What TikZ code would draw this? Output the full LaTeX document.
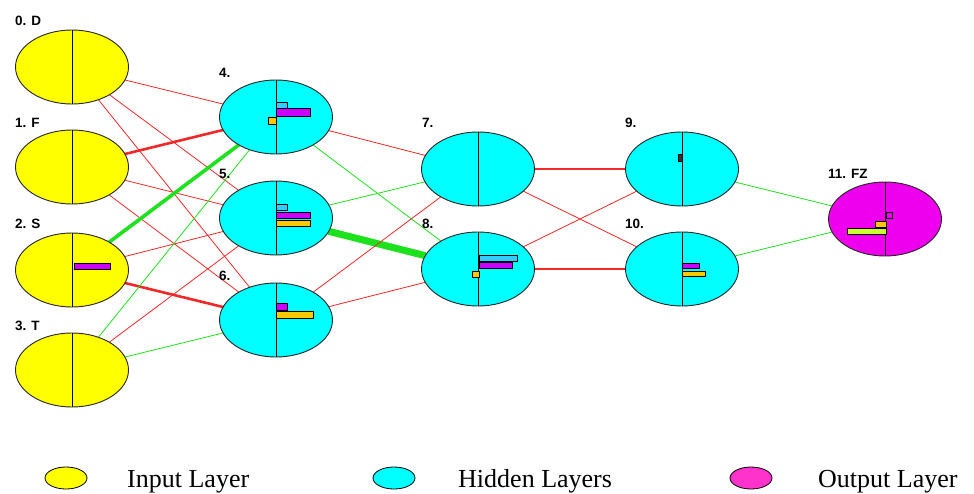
\documentclass[tikz,border=0pt]{standalone}
\usepackage{fontspec}
\setmainfont{Liberation Serif}
\newfontfamily\labfont{Liberation Sans}
\usetikzlibrary{shapes.geometric}
\pgfdeclarelayer{background}
\pgfsetlayers{background,main}
\definecolor{inyel}{RGB}{255,255,0}
\definecolor{hidcyan}{RGB}{0,255,255}
\definecolor{outmag}{RGB}{238,0,238}
\definecolor{legmag}{RGB}{255,51,204}
\definecolor{linered}{RGB}{240,40,40}
\definecolor{linegreen}{RGB}{30,225,30}
\definecolor{barcyan}{RGB}{51,204,255}
\definecolor{barmag}{RGB}{204,0,255}
\definecolor{barorange}{RGB}{255,200,0}
\definecolor{barlime}{RGB}{204,255,51}
\begin{document}
\begin{tikzpicture}[x=1pt,y=-1pt,
  neuron/.style={ellipse,draw=black!85,line width=0.9pt,minimum width=113pt,minimum height=74pt,inner sep=0pt,outer sep=0pt},
  inneuron/.style={neuron,fill=inyel},
  hidneuron/.style={neuron,fill=hidcyan},
  outneuron/.style={neuron,fill=outmag},
  lab/.style={anchor=base west,inner sep=0pt,font=\labfont\bfseries\fontsize{13.5}{13.5}\selectfont},
  bar/.style={draw=black,line width=0.6pt},
  divider/.style={draw=black,line width=1pt},
  wr/.style={draw=linered,line width=0.8pt},
  wrk/.style={draw=linered,line width=2.6pt},
  wrm/.style={draw=linered,line width=1.8pt},
  wg/.style={draw=linegreen,line width=0.8pt},
  wgk/.style={draw=linegreen,line width=3.6pt},
  wgh/.style={draw=linegreen,line width=7pt},
  legnode/.style={ellipse,draw=black,line width=0.8pt,minimum width=42pt,minimum height=22pt,inner sep=0pt},
  legtext/.style={anchor=base west,inner sep=0pt,font=\fontsize{26}{26}\selectfont}
]
\useasboundingbox (0,0) rectangle (974,493);

% input layer
\node[inneuron] (n0) at (72,67) {};
\node[inneuron] (n1) at (72,167) {};
\node[inneuron] (n2) at (72,270) {};
\node[inneuron] (n3) at (72,370) {};
% hidden layer 1
\node[hidneuron] (n4) at (276,117) {};
\node[hidneuron] (n5) at (276,218) {};
\node[hidneuron] (n6) at (276,320) {};
% hidden layer 2
\node[hidneuron] (n7) at (478,169) {};
\node[hidneuron] (n8) at (478,269) {};
% hidden layer 3
\node[hidneuron] (n9) at (682,169) {};
\node[hidneuron] (n10) at (682,269) {};
% output
\node[outneuron] (n11) at (885,219) {};

\foreach \n in {n0,n1,n2,n3,n4,n5,n6,n7,n8,n9,n10,n11}
  \draw[divider] (\n.north) -- (\n.south);

% labels
\node[lab] (l0) at (15,25) {0. D};
\node[lab] (l1) at (15,127) {1. F};
\node[lab] (l2) at (15,228) {2. S};
\node[lab] (l3) at (15,330) {3. T};
\node[lab] (l4) at (219,77) {4.};
\node[lab] (l5) at (219,178) {5.};
\node[lab] (l6) at (219,280) {6.};
\node[lab] (l7) at (422,127) {7.};
\node[lab] (l8) at (422,228) {8.};
\node[lab] (l9) at (625,127) {9.};
\node[lab] (l10) at (625,228) {10.};
\node[lab] (l11) at (828,178) {11. FZ};

% bars
\draw[bar,fill=barmag] (74,263) rectangle (110,269);

\draw[bar,fill=barcyan] (276,102) rectangle (287,108);
\draw[bar,fill=barmag] (276,108) rectangle (310,116);
\draw[bar,fill=barorange] (268,117) rectangle (276,124);

\draw[bar,fill=barcyan] (276,204) rectangle (287,210);
\draw[bar,fill=barmag] (276,212) rectangle (310,218);
\draw[bar,fill=barorange] (276,220) rectangle (310,226);

\draw[bar,fill=barmag] (276,303) rectangle (287,310);
\draw[bar,fill=barorange] (276,311) rectangle (313,318);

\draw[bar,fill=barcyan] (479,255) rectangle (517,261);
\draw[bar,fill=barmag] (479,262) rectangle (512,268);
\draw[bar,fill=barorange] (472,271) rectangle (479,277);

\draw[bar,fill=black!80] (678,154) rectangle (682,161);

\draw[bar,fill=barmag] (682,263) rectangle (699,268);
\draw[bar,fill=barorange] (682,271) rectangle (705,276);

\draw[bar,fill=outmag] (886,212) rectangle (892,218);
\draw[bar,fill=barorange] (875,221) rectangle (886,227);
\draw[bar,fill=barlime] (847,228) rectangle (886,234);

% connections
\begin{pgfonlayer}{background}
\draw[wr] (n0) -- (n4);
\draw[wr] (n0) -- (n5);
\draw[wr] (n0) -- (n6);
\draw[wrk] (n1) -- (n4);
\draw[wr] (n1) -- (n5);
\draw[wr] (n1) -- (n6);
\draw[wgk] (n2) -- (n4);
\draw[wr] (n2) -- (n5);
\draw[wrk] (n2) -- (n6);
\draw[wg] (n3) -- (n4);
\draw[wr] (n3) -- (n5);
\draw[wg] (n3) -- (n6);

\draw[wr] (n4) -- (n7);
\draw[wg] (n4) -- (n8);
\draw[wg] (n5) -- (n7);
\draw[wgh] (n5) -- (n8);
\draw[wr] (n6) -- (n7);
\draw[wr] (n6) -- (n8);

\draw[wrm] (n7) -- (n9);
\draw[wr] (n7) -- (n10);
\draw[wr] (n8) -- (n9);
\draw[wr,line width=1.3pt] (n8) -- (n10);

\draw[wg] (n9) -- (n11);
\draw[wg] (n10) -- (n11);
\end{pgfonlayer}

% legend
\node[legnode,fill=inyel] (k1) at (66,478) {};
\node[legtext] (t1) at (127,487) {Input Layer};
\node[legnode,fill=hidcyan] (k2) at (394,478) {};
\node[legtext] (t2) at (458,487) {Hidden Layers};
\node[legnode,fill=legmag] (k3) at (751,478) {};
\node[legtext] (t3) at (818,487) {Output Layer};
\end{tikzpicture}
\end{document}
